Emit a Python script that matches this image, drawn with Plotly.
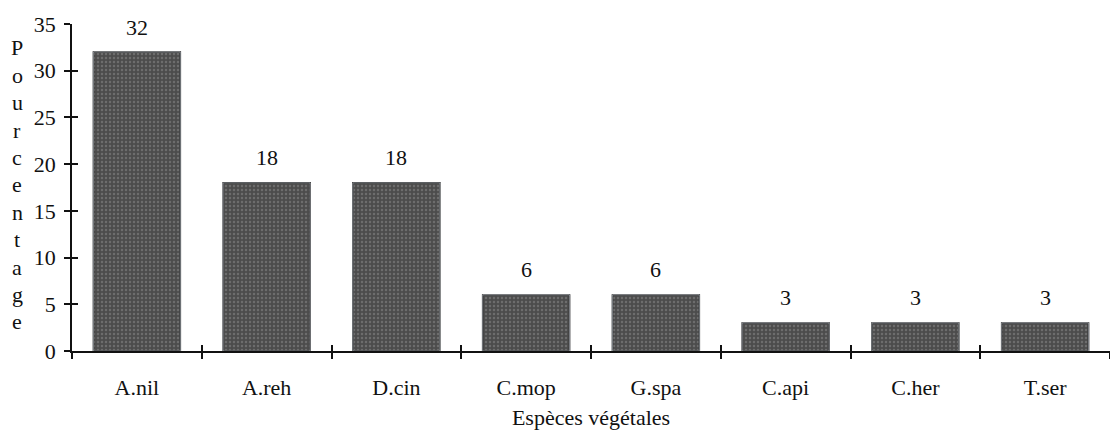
import plotly.graph_objects as go

# Species abbreviations and their share (%)
species = ["A.nil", "A.reh", "D.cin", "C.mop", "G.spa", "C.api", "C.her", "T.ser"]
pourcentage = [32, 18, 18, 6, 6, 3, 3, 3]
y_ticks = [0, 5, 10, 15, 20, 25, 30, 35]
y_title = "Pourcentage"
x_title = "Espèces végétales"

FONT = "Liberation Serif, Times New Roman, serif"
FS = 22

fig = go.Figure()

# Transparent copy on the overlay axes (only there to draw inner tick marks)
fig.add_trace(go.Bar(x=species, y=pourcentage, xaxis="x2", yaxis="y2",
                     marker=dict(color="rgba(0,0,0,0)"), showlegend=False,
                     hoverinfo="skip", width=0.67))

fig.add_trace(go.Bar(
    x=species,
    y=pourcentage,
    width=0.67,
    marker=dict(
        color="#555555",
        line=dict(color="#1a1a1a", width=1.5),
        pattern=dict(shape=".", fgcolor="#8e8e8e", bgcolor="#4c4c4c",
                     size=4, solidity=0.3),
    ),
    showlegend=False,
    hoverinfo="x+y",
))

# Value labels above each bar
for s, v in zip(species, pourcentage):
    fig.add_annotation(x=s, y=v, text=str(v), showarrow=False,
                       yshift=25, yanchor="middle",
                       font=dict(family=FONT, size=FS, color="#111"))

# Vertical stacked-letter y title
top, step = 0.927, 0.0838
for i, ch in enumerate(y_title):
    fig.add_annotation(x=0, xref="paper", y=top - i * step, yref="paper",
                       text=ch, showarrow=False, xshift=-55,
                       xanchor="center", yanchor="middle",
                       font=dict(family=FONT, size=FS, color="#111"))

axis_common = dict(showgrid=False, zeroline=False, linecolor="#111",
                   linewidth=1.5, tickcolor="#111", tickwidth=1.5)

fig.update_layout(
    width=1110, height=434,
    margin=dict(l=72, r=0, t=24, b=83),
    paper_bgcolor="white", plot_bgcolor="white",
    font=dict(family=FONT, size=FS, color="#111"),
    xaxis=dict(
        **axis_common,
        type="category", categoryorder="array", categoryarray=species,
        range=[-0.5, len(species) - 0.5],
        showline=True, ticks="outside", ticklen=6, tickson="boundaries",
        ticklabelstandoff=16,
        title=dict(text=x_title, standoff=10, font=dict(family=FONT, size=FS)),
    ),
    xaxis2=dict(
        **axis_common,
        type="category", categoryorder="array", categoryarray=species,
        range=[-0.5, len(species) - 0.5],
        overlaying="x", side="bottom", anchor="y",
        showline=False, ticks="inside", ticklen=6, tickson="boundaries",
        showticklabels=False,
    ),
    yaxis=dict(
        **axis_common,
        range=[0, 35], tickvals=y_ticks, showline=True,
        ticks="outside", ticklen=6, ticklabelstandoff=4,
    ),
    yaxis2=dict(
        **axis_common,
        range=[0, 35], tickvals=y_ticks, overlaying="y", side="left",
        anchor="x", showline=False, ticks="inside", ticklen=6,
        showticklabels=False,
    ),
)

fig.write_html("out.html")
